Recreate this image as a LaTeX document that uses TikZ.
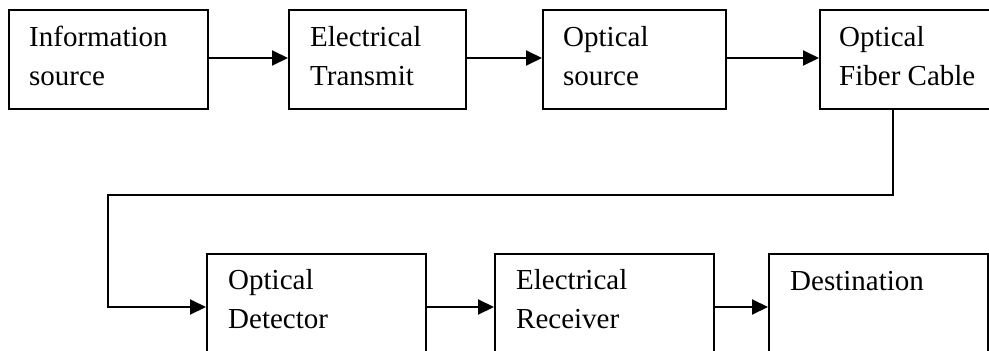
\documentclass[tikz,border=0pt]{standalone}
\usepackage{fontspec}
\setmainfont{Liberation Serif}
\usetikzlibrary{arrows.meta}
\begin{document}
\begin{tikzpicture}[x=1pt,y=-1pt,
  box/.style={draw,line width=2pt,rectangle,inner sep=0pt,anchor=north west},
  lbl/.style={anchor=base west,inner sep=0pt,align=left,font=\fontsize{29}{38.5}\selectfont},
  link/.style={line width=2pt,-{Triangle[length=16pt,width=15pt]}}]
\useasboundingbox (0,0) rectangle (989,351);
% top row
\node[box,minimum width=199pt,minimum height=99pt] (b1) at (8,9) {};
\node[box,minimum width=177pt,minimum height=99pt] (b2) at (288,9) {};
\node[box,minimum width=183pt,minimum height=99pt] (b3) at (542,9) {};
\node[box,minimum width=190pt,minimum height=99pt] (b4) at (819,9) {};
% bottom row
\node[box,minimum width=219pt,minimum height=106pt] (b5) at (206,253) {};
\node[box,minimum width=219pt,minimum height=106pt] (b6) at (494,253) {};
\node[box,minimum width=219pt,minimum height=106pt] (b7) at (768,253) {};
% labels (base = last line)
\node[lbl] (t1) at (29,85) {Information\\source};
\node[lbl] (t2) at (310,85) {Electrical\\Transmit};
\node[lbl] (t3) at (563,85) {Optical\\source};
\node[lbl] (t4) at (839,85) {Optical\\Fiber Cable};
\node[lbl] (t5) at (228,328) {Optical\\Detector};
\node[lbl] (t6) at (516,328) {Electrical\\Receiver};
\node[lbl] (t7) at (790,290) {Destination};
% connectors
\draw[link] ([yshift=1.5pt]b1.east) -- ([yshift=1.5pt]b2.west);
\draw[link] ([yshift=1.5pt]b2.east) -- ([yshift=1.5pt]b3.west);
\draw[link] ([yshift=1.5pt]b3.east) -- ([yshift=1.5pt]b4.west);
\coordinate (c1) at (893,195);
\coordinate (c2) at (108,195);
\draw[link] (c1 |- b4.south) -- (c1) -- (c2) -- (c2 |- b5.west) -- (b5.west);
\draw[link] (b5.east) -- (b6.west);
\draw[link] (b6.east) -- (b7.west);
\end{tikzpicture}
\end{document}
